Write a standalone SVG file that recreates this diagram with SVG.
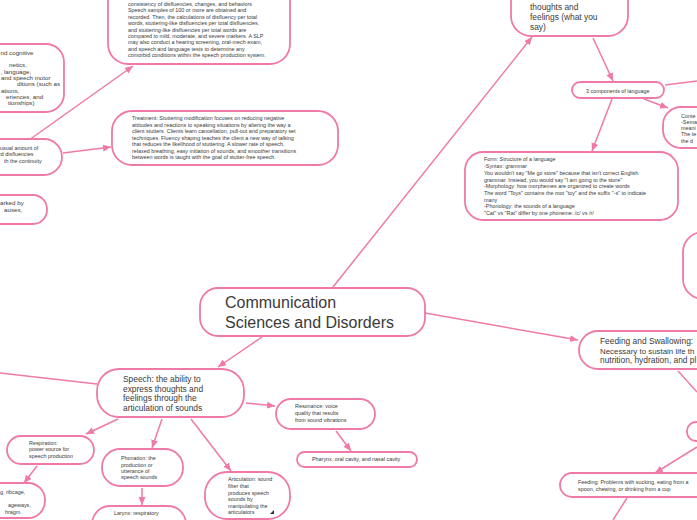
<svg xmlns="http://www.w3.org/2000/svg" width="697" height="520" viewBox="0 0 697 520">
<style>
.n{fill:#fff;stroke:#ef7aa7;stroke-width:1.8}
.e{stroke:#ef7aa7;stroke-width:1.5;fill:none}
text{font-family:"Liberation Sans",Arial,sans-serif;fill:#3a3a3a}
.s{font-size:5.4px}
.t{font-size:6.2px}
.m{font-size:8.4px}
.l{font-size:16px}
</style>
<defs>
<marker id="a" markerUnits="userSpaceOnUse" markerWidth="9" markerHeight="8" refX="8" refY="3.5" orient="auto">
<path d="M0,0 L8,3.5 L0,7 z" fill="#ef7aa7"/>
</marker>
</defs>
<rect width="697" height="520" fill="#fff"/>
<g id="connectors">
<line class="e" x1="29" y1="140" x2="133" y2="66" marker-end="url(#a)"/>
<line class="e" x1="63" y1="153" x2="111" y2="147" marker-end="url(#a)"/>
<line class="e" x1="0" y1="373" x2="97" y2="384"/>
<line class="e" x1="262" y1="337" x2="218" y2="367" marker-end="url(#a)"/>
<line class="e" x1="118" y1="419" x2="86" y2="434" marker-end="url(#a)"/>
<line class="e" x1="37" y1="466" x2="24" y2="483" marker-end="url(#a)"/>
<line class="e" x1="162" y1="419" x2="152" y2="448" marker-end="url(#a)"/>
<line class="e" x1="142" y1="488" x2="142" y2="505" marker-end="url(#a)"/>
<line class="e" x1="191" y1="419" x2="231" y2="471" marker-end="url(#a)"/>
<line class="e" x1="246" y1="403" x2="275" y2="406" marker-end="url(#a)"/>
<line class="e" x1="336" y1="431" x2="351" y2="451" marker-end="url(#a)"/>
<line class="e" x1="333" y1="287" x2="532" y2="37" marker-end="url(#a)"/>
<line class="e" x1="593" y1="38" x2="613" y2="81" marker-end="url(#a)"/>
<line class="e" x1="665" y1="85" x2="697" y2="81"/>
<line class="e" x1="644" y1="99" x2="668" y2="108" marker-end="url(#a)"/>
<line class="e" x1="612" y1="99" x2="592" y2="151" marker-end="url(#a)"/>
<line class="e" x1="425" y1="313" x2="578" y2="340" marker-end="url(#a)"/>
<line class="e" x1="678" y1="371" x2="697" y2="392"/>
<line class="e" x1="697" y1="447" x2="655" y2="473" marker-end="url(#a)"/>
<line class="e" x1="627" y1="498" x2="613" y2="520"/>
</g>
<g id="node-topleft">
<rect class="n" x="-40" y="44" width="104" height="68" rx="18"/>
<text class="t" x="0.5" y="54.5">nd cognitive</text>
<text class="t" x="9" y="67.2">netics,</text>
<text class="t" x="0.5" y="73.5">, language,</text>
<text class="t" x="1" y="79.9">and speech motor</text>
<text class="t" x="17" y="86.2">ditions (such as</text>
<text class="t" x="1" y="92.6">ations,</text>
<text class="t" x="6" y="98.9">eriences, and</text>
<text class="t" x="8" y="105.3">tionships)</text>
</g>
<g id="node-assessment">
<rect class="n" x="108" y="-20" width="182" height="84" rx="20"/>
<text class="s" x="128" y="5.7">consistency of disfluencies, changes, and behaviors</text>
<text class="s" x="128" y="12.2">Speech samples of 100 or more are obtained and</text>
<text class="s" x="128" y="18.6">recorded. Then, the calculations of disfluency per total</text>
<text class="s" x="128" y="25.1">words, stuttering-like disfluencies per total disfluencies,</text>
<text class="s" x="128" y="31.5">and stuttering-like disfluencies per total words are</text>
<text class="s" x="128" y="38">compared to mild, moderate, and severe markers. A SLP</text>
<text class="s" x="128" y="44.4">may also conduct a hearing screening, oral-mech exam,</text>
<text class="s" x="128" y="50.9">and speech and language tests to determine any</text>
<text class="s" x="128" y="57.3">comorbid conditions within the speech production system.</text>
</g>
<g id="node-treatment">
<rect class="n" x="112" y="111" width="226" height="54" rx="20"/>
<text class="s" x="132" y="120.4">Treatment: Stuttering modification focuses on reducing negative</text>
<text class="s" x="132" y="126.9">attitudes and reactions to speaking situations by altering the way a</text>
<text class="s" x="132" y="133.4">client stutters. Clients learn cancellation, pull-out and preparatory set</text>
<text class="s" x="132" y="139.9">techniques. Fluency shaping teaches the client a new way of talking</text>
<text class="s" x="132" y="146.4">that reduces the likelihood of stuttering. A slower rate of speech,</text>
<text class="s" x="132" y="152.9">relaxed breathing, easy initiation of sounds, and smoother transitions</text>
<text class="s" x="132" y="159.4">between words is taught with the goal of stutter-free speech.</text>
</g>
<g id="node-stuttering">
<rect class="n" x="-60" y="139" width="122" height="36" rx="18"/>
<text class="s" x="0" y="149.5">usual amount of</text>
<text class="s" x="-1" y="156.3">rd disfluencies</text>
<text class="s" x="4" y="163.1">th the continuity</text>
</g>
<g id="node-marked">
<rect class="n" x="-60" y="195" width="107" height="29" rx="14"/>
<text class="t" x="0" y="205">arked by</text>
<text class="t" x="4" y="212">auses,</text>
</g>
<g id="node-main">
<rect class="n" x="200" y="288" width="225" height="48" rx="18"/>
<text class="l" x="225" y="308">Communication</text>
<text class="l" x="225" y="328">Sciences and Disorders</text>
</g>
<g id="node-speech">
<rect class="n" x="97" y="369" width="147" height="48" rx="22"/>
<text class="m" x="123" y="382">Speech: the ability to</text>
<text class="m" x="123" y="391.5">express thoughts and</text>
<text class="m" x="123" y="401">feelings through the</text>
<text class="m" x="123" y="410.5">articulation of sounds</text>
</g>
<g id="node-respiration">
<rect class="n" x="7" y="436" width="87" height="28" rx="14"/>
<text class="s" x="29" y="444.5">Respiration:</text>
<text class="s" x="29" y="451.3">power source for</text>
<text class="s" x="29" y="458.1">speech production</text>
</g>
<g id="node-ribcage">
<rect class="n" x="-60" y="483" width="105" height="35" rx="17"/>
<text class="s" x="0" y="493.5">g, ribcage,</text>
<text class="s" x="8" y="507">ageways,</text>
<text class="s" x="5" y="513.5">hragm.</text>
</g>
<g id="node-phonation">
<rect class="n" x="102" y="449" width="81" height="37" rx="18"/>
<text class="s" x="121" y="460.4">Phonation: the</text>
<text class="s" x="121" y="466.7">production or</text>
<text class="s" x="121" y="473">utterance of</text>
<text class="s" x="121" y="479.3">speech sounds</text>
</g>
<g id="node-larynx">
<rect class="n" x="92" y="506" width="94" height="40" rx="18"/>
<text class="s" x="114" y="515.4">Larynx: respiratory</text>
</g>
<g id="node-articulation">
<rect class="n" x="205" y="472" width="85" height="47" rx="22"/>
<text class="s" x="228" y="481.4">Articulation: sound</text>
<text class="s" x="228" y="488">filter that</text>
<text class="s" x="228" y="494.6">produces speech</text>
<text class="s" x="228" y="501.2">sounds by</text>
<text class="s" x="228" y="507.8">manipulating the</text>
<text class="s" x="228" y="514.4">articulators</text>
<path d="M270,514 L274,514 L274,510 z" fill="#333"/>
</g>
<g id="node-resonance">
<rect class="n" x="276" y="399" width="99" height="30" rx="15"/>
<text class="s" x="295" y="408.4">Resonance: voice</text>
<text class="s" x="295" y="415.2">quality that results</text>
<text class="s" x="295" y="422">from sound vibrations</text>
</g>
<g id="node-pharynx">
<rect class="n" x="297" y="452" width="120" height="15" rx="7.5"/>
<text class="s" x="312" y="461.4">Pharynx, oral cavity, and nasal cavity</text>
</g>
<g id="node-language">
<rect class="n" x="511" y="-30" width="117" height="66" rx="20"/>
<text class="m" x="530" y="10">thoughts and</text>
<text class="m" x="530" y="20">feelings (what you</text>
<text class="m" x="530" y="30">say)</text>
</g>
<g id="node-components">
<rect class="n" x="572" y="82" width="92" height="16" rx="8"/>
<text class="s" x="586" y="92.6">3 components of language</text>
</g>
<g id="node-content">
<rect class="n" x="663" y="107" width="100" height="41" rx="18"/>
<text class="s" x="681" y="117.5">Conte</text>
<text class="s" x="681" y="123.8">-Sema</text>
<text class="s" x="681" y="130.1">meani</text>
<text class="s" x="681" y="136.4">The te</text>
<text class="s" x="681" y="142.7">the d</text>
</g>
<g id="node-form">
<rect class="n" x="465" y="152" width="213" height="68" rx="18"/>
<text class="s" x="484" y="161.4">Form: Structure of a language</text>
<text class="s" x="484" y="168.1">-Syntax: grammar</text>
<text class="s" x="484" y="174.8">You wouldn't say "Me go store" because that isn't correct English</text>
<text class="s" x="484" y="181.5">grammar. Instead, you would say "I am going to the store"</text>
<text class="s" x="484" y="188.2">-Morphology: how morphemes are organized to create words</text>
<text class="s" x="484" y="194.9">The word "Toys" contains the root "toy" and the suffix "-s" to indicate</text>
<text class="s" x="484" y="201.6">many</text>
<text class="s" x="484" y="208.3">-Phonology: the sounds of a language</text>
<text class="s" x="484" y="215">"Cat" vs "Rat" differ by one phoneme: /c/ vs /r/</text>
</g>
<g id="node-right-middle">
<rect class="n" x="683" y="232" width="80" height="67" rx="20"/>
</g>
<g id="node-feeding-swallowing">
<rect class="n" x="579" y="331" width="180" height="38" rx="19"/>
<text class="m" x="600" y="344">Feeding and Swallowing:</text>
<text class="m" x="600" y="353.5" style="font-size:7.9px">Necessary to sustain life th</text>
<text class="m" x="600" y="363">nutrition, hydration, and pl</text>
</g>
<g id="node-right-lower">
<rect class="n" x="687" y="422" width="70" height="19" rx="9"/>
</g>
<g id="node-feeding">
<rect class="n" x="560" y="473" width="200" height="24" rx="12"/>
<text class="s" x="578" y="483.6">Feeding: Problems with sucking, eating from a</text>
<text class="s" x="578" y="490.6">spoon, chewing, or drinking from a cup</text>
</g>
</svg>
